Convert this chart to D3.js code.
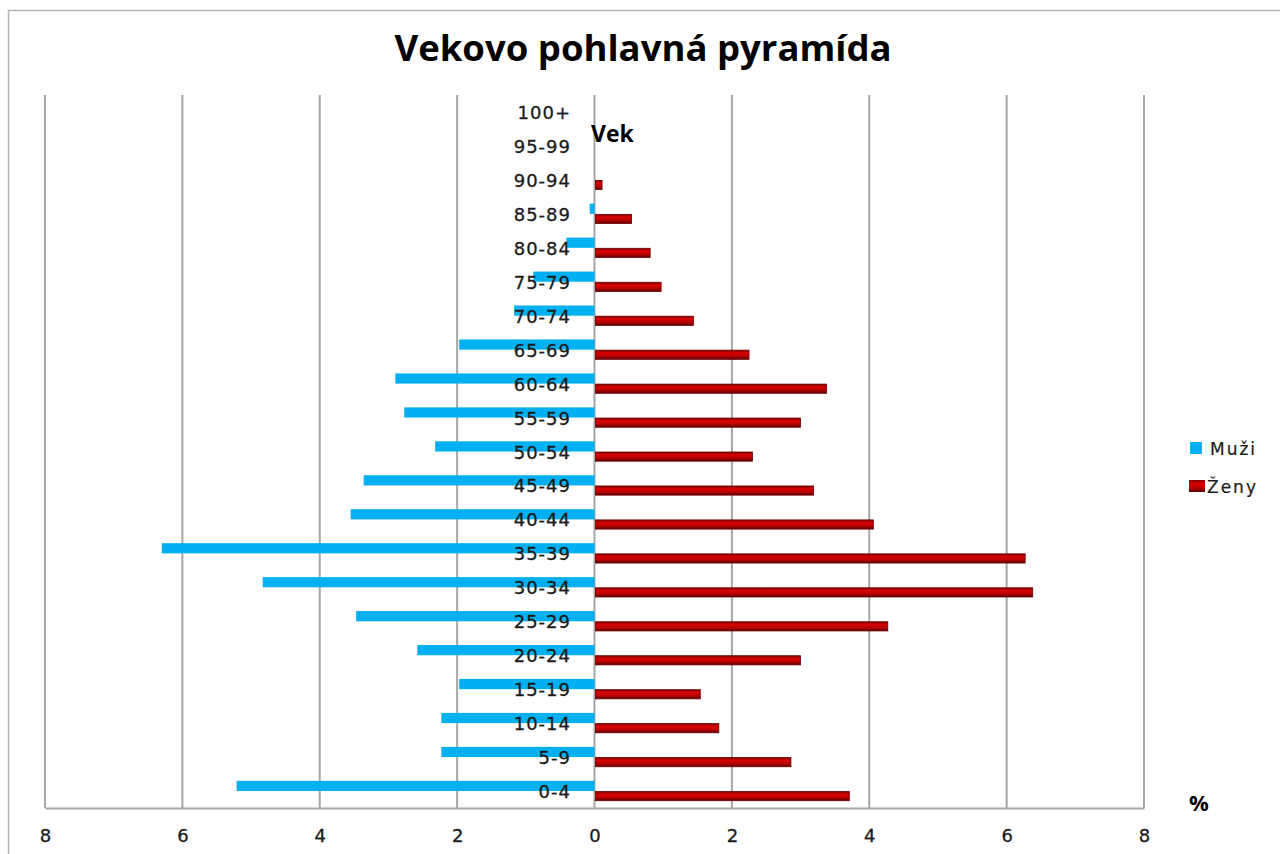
<!DOCTYPE html>
<html>
<head>
<meta charset="utf-8">
<script src="https://cdn.jsdelivr.net/npm/d3@7"></script>
<style>
  html, body { margin: 0; padding: 0; background: #fff; }
  svg { display: block; }
</style>
</head>
<body>
<svg id="chart" width="1280" height="854"></svg>
<script>
// Age groups, top to bottom
const categories = ["100+","95-99","90-94","85-89","80-84","75-79","70-74","65-69","60-64","55-59","50-54","45-49","40-44","35-39","30-34","25-29","20-24","15-19","10-14","5-9","0-4"];
// Men (shown to the left, %)
const muzi = [0, 0, 0, 0.07, 0.41, 0.89, 1.17, 1.97, 2.90, 2.77, 2.32, 3.36, 3.55, 6.30, 4.83, 3.47, 2.58, 1.97, 2.23, 2.23, 5.21];
// Women (shown to the right, %)
const zeny = [0, 0, 0.11, 0.54, 0.81, 0.97, 1.44, 2.25, 3.38, 3.00, 2.30, 3.19, 4.06, 6.27, 6.38, 4.27, 3.00, 1.54, 1.81, 2.86, 3.71];
const seriesNames = ["Muži", "Ženy"];
const xTicks = [-8, -6, -4, -2, 0, 2, 4, 6, 8];
const title = "Vekovo pohlavná pyramída";

const svg = d3.select("#chart");
const defs = svg.append("defs");
const grad = defs.append("linearGradient").attr("id", "redGrad")
  .attr("x1", 0).attr("y1", 0).attr("x2", 0).attr("y2", 1);
grad.append("stop").attr("offset", "0%").attr("stop-color", "#7a0000");
grad.append("stop").attr("offset", "30%").attr("stop-color", "#d80000");
grad.append("stop").attr("offset", "60%").attr("stop-color", "#c00000");
grad.append("stop").attr("offset", "100%").attr("stop-color", "#5e0000");

// outer chart border (extends past the right/bottom of the view)
svg.append("rect").attr("x", 8.5).attr("y", 10.5).attr("width", 1300).attr("height", 900)
  .attr("fill", "none").attr("stroke", "#b3b3b3").attr("stroke-width", 1.5);

const x = d3.scaleLinear().domain([-8, 8]).range([45, 1144]);
const y = d3.scaleBand().domain(categories).range([95, 808]).padding(0);
const ySub = d3.scaleBand().domain(seriesNames).range([y.bandwidth() * 0.2, y.bandwidth() * 0.8]);

// title
svg.append("text").attr("x", 643).attr("y", 61).attr("text-anchor", "middle")
  .attr("font-family", "'Open Sans', sans-serif").attr("font-weight", "bold")
  .attr("font-size", 36.5).attr("fill", "#000").text(title);

// gridlines
svg.append("g").selectAll("line").data(xTicks).join("line")
  .attr("x1", d => x(d)).attr("x2", d => x(d))
  .attr("y1", 95).attr("y2", 808)
  .attr("stroke", "#a6a6a6").attr("stroke-width", 2);

// bottom axis
const axis = d3.axisBottom(x).tickValues(xTicks).tickSize(0).tickPadding(0)
  .tickFormat(d => Math.abs(d));
const gAxis = svg.append("g").attr("transform", "translate(0,808)").call(axis);
gAxis.select(".domain").attr("stroke", "#a6a6a6").attr("stroke-width", 2);
gAxis.selectAll("text").attr("font-family", "'DejaVu Sans', Verdana, sans-serif")
  .attr("font-size", 18).attr("fill", "#1a1a1a").attr("stroke", "#1a1a1a").attr("stroke-width", 0.3)
  .attr("dy", 0).attr("y", 34);

// bars
const rows = categories.map((c, i) => ({ c, m: muzi[i], z: zeny[i] }));
svg.append("g").selectAll("rect").data(rows).join("rect")
  .attr("x", d => x(-d.m)).attr("width", d => x(0) - x(-d.m))
  .attr("y", d => y(d.c) + ySub("Muži")).attr("height", ySub.bandwidth())
  .attr("fill", "#00b0f0");

svg.append("g").selectAll("rect").data(rows.filter(d => d.z > 0)).join("rect")
  .attr("x", x(0) + 1).attr("width", d => Math.max(0, x(d.z) - x(0) - 1))
  .attr("y", d => y(d.c) + ySub("Ženy") + 0.5).attr("height", ySub.bandwidth() - 1)
  .attr("fill", "url(#redGrad)").attr("stroke", "#6a0000").attr("stroke-width", 0.8);

// category labels
svg.append("g").selectAll("text").data(categories).join("text")
  .attr("x", 571).attr("y", d => y(d) + y.bandwidth() / 2 + 7)
  .attr("text-anchor", "end")
  .attr("font-family", "'DejaVu Sans', Verdana, sans-serif")
  .attr("font-size", 18).attr("letter-spacing", 1).attr("fill", "#1a1a1a")
  .attr("stroke", "#1a1a1a").attr("stroke-width", 0.3)
  .text(d => d);

// axis titles
svg.append("text").attr("x", 591).attr("y", 142)
  .attr("font-family", "'Open Sans', sans-serif").attr("font-weight", "bold")
  .attr("font-size", 23).attr("fill", "#000").text("Vek");
svg.append("text").attr("x", 1189).attr("y", 811)
  .attr("font-family", "'Open Sans', sans-serif").attr("font-weight", "bold")
  .attr("font-size", 22).attr("fill", "#000").text("%");

// legend
const legend = svg.append("g");
const legendItems = [
  { name: seriesNames[0], fill: "#00b0f0", x: 1190, w: 12, y: 442, tx: 1210, ty: 455 },
  { name: seriesNames[1], fill: "url(#redGrad)", x: 1189, w: 16, y: 480, tx: 1207, ty: 493 }
];
legend.selectAll("rect").data(legendItems).join("rect")
  .attr("x", d => d.x).attr("y", d => d.y).attr("width", d => d.w).attr("height", 12)
  .attr("fill", d => d.fill);
legend.selectAll("text").data(legendItems).join("text")
  .attr("x", d => d.tx).attr("y", d => d.ty)
  .attr("font-family", "'DejaVu Sans', Verdana, sans-serif")
  .attr("font-size", 17).attr("letter-spacing", 2).attr("fill", "#1a1a1a")
  .attr("stroke", "#1a1a1a").attr("stroke-width", 0.2)
  .text(d => d.name);
</script>
</body>
</html>
